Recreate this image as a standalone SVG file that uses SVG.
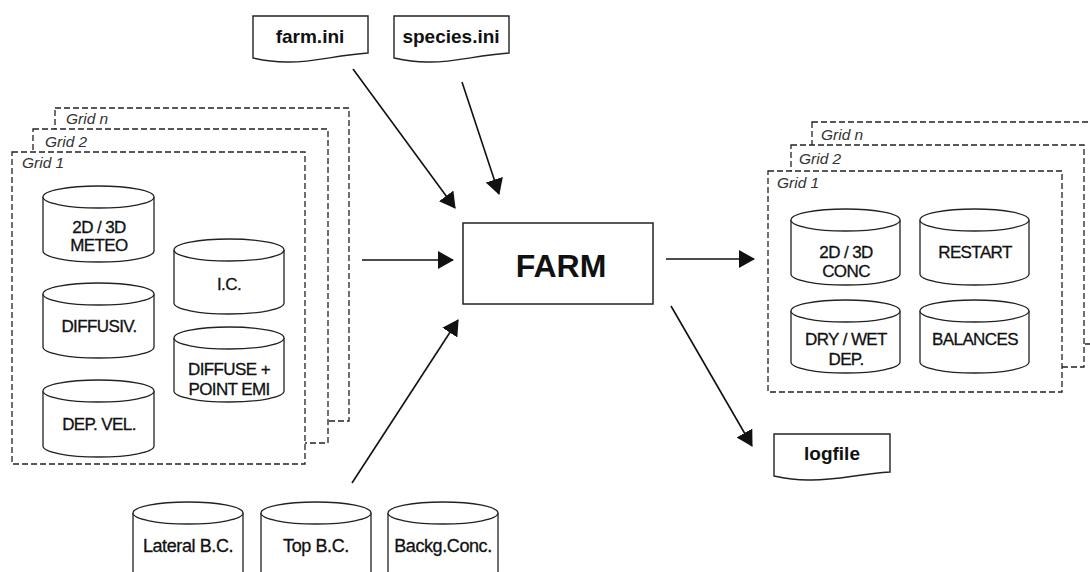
<svg xmlns="http://www.w3.org/2000/svg" width="1090" height="572" viewBox="0 0 1090 572">
<defs>
<marker id="ah" viewBox="0 0 16 18" refX="15" refY="9" markerWidth="16" markerHeight="18" markerUnits="userSpaceOnUse" orient="auto">
<path d="M0,0 L16,9 L0,18 Z" fill="#111"/>
</marker>
</defs>
<style>
.grid{fill:#fff;stroke:#222;stroke-width:1.3;stroke-dasharray:6 3}
.gl{font-family:"Liberation Sans",Arial,sans-serif;font-style:italic;font-size:15.5px;fill:#333}
.cyl{fill:#fff;stroke:#222;stroke-width:1.3}
.ct{font-family:"Liberation Sans",Arial,sans-serif;font-size:17px;letter-spacing:-0.6px;fill:#111;stroke:#111;stroke-width:0.3;text-anchor:middle}
.bt{font-family:"Liberation Sans",Arial,sans-serif;font-size:18px;letter-spacing:-0.4px;fill:#111;stroke:#111;stroke-width:0.3;text-anchor:middle}
.doc{fill:#fff;stroke:#222;stroke-width:1.4}
.dt{font-family:"Liberation Sans",Arial,sans-serif;font-weight:bold;font-size:19px;fill:#111;text-anchor:middle}
.con{fill:none;stroke:#111;stroke-width:1.6;marker-end:url(#ah)}
</style>
<rect width="1090" height="572" fill="#fff"/>

<g id="left-grids">
<rect class="grid" x="55" y="108" width="294" height="313"/>
<text class="gl" x="66" y="124">Grid n</text>
<rect class="grid" x="33" y="129" width="295" height="314"/>
<text class="gl" x="45" y="147">Grid 2</text>
<rect class="grid" x="12" y="152" width="293" height="312"/>
<text class="gl" x="22" y="168">Grid 1</text>
</g>

<g id="meteo">
<path class="cyl" d="M43,197 V251 A55.5,11 0 0 0 154,251 V197"/>
<ellipse class="cyl" cx="98.5" cy="197" rx="55.5" ry="11"/>
<text class="ct" x="99" y="233">2D / 3D</text>
<text class="ct" x="99" y="251">METEO</text>
</g>
<g id="diffusiv">
<path class="cyl" d="M43,294 V347 A55.5,11 0 0 0 154,347 V294"/>
<ellipse class="cyl" cx="98.5" cy="294" rx="55.5" ry="11"/>
<text class="ct" x="99" y="332">DIFFUSIV.</text>
</g>
<g id="depvel">
<path class="cyl" d="M43,391 V446 A55.5,11 0 0 0 154,446 V391"/>
<ellipse class="cyl" cx="98.5" cy="391" rx="55.5" ry="11"/>
<text class="ct" x="99" y="430">DEP. VEL.</text>
</g>
<g id="ic">
<path class="cyl" d="M174,250 V303 A55,11 0 0 0 284,303 V250"/>
<ellipse class="cyl" cx="229" cy="250" rx="55" ry="11"/>
<text class="ct" x="229" y="290">I.C.</text>
</g>
<g id="emi">
<path class="cyl" d="M174,338 V391 A55,11 0 0 0 284,391 V338"/>
<ellipse class="cyl" cx="229" cy="338" rx="55" ry="11"/>
<text class="ct" x="229" y="375">DIFFUSE +</text>
<text class="ct" x="229" y="395">POINT EMI</text>
</g>

<g id="farm-ini">
<path class="doc" d="M253,16 H368 V53 C336,55 312,63 286,62 C272,62 262,60 253,58 Z"/>
<text class="dt" x="310" y="43">farm.ini</text>
</g>
<g id="species-ini">
<path class="doc" d="M394,16 H509 V53 C477,55 453,63 427,62 C413,62 403,60 394,58 Z"/>
<text class="dt" x="451" y="43">species.ini</text>
</g>

<g id="farm">
<rect x="463" y="223" width="190" height="81" fill="#fff" stroke="#222" stroke-width="1.5"/>
<text x="561" y="277" font-family="'Liberation Sans',Arial,sans-serif" font-weight="bold" font-size="32" fill="#111" text-anchor="middle">FARM</text>
</g>

<g id="right-grids">
<rect class="grid" x="812" y="122" width="294" height="222"/>
<text class="gl" x="821" y="140">Grid n</text>
<rect class="grid" x="791" y="145" width="293" height="222"/>
<text class="gl" x="799" y="164">Grid 2</text>
<rect class="grid" x="768" y="171" width="294" height="221"/>
<text class="gl" x="777" y="188">Grid 1</text>
</g>

<g id="conc">
<path class="cyl" d="M791,220 V274 A54.5,11 0 0 0 900,274 V220"/>
<ellipse class="cyl" cx="845.5" cy="220" rx="54.5" ry="11"/>
<text class="ct" x="846" y="258">2D / 3D</text>
<text class="ct" x="846" y="277">CONC</text>
</g>
<g id="restart">
<path class="cyl" d="M920,220 V274 A54.5,11 0 0 0 1029,274 V220"/>
<ellipse class="cyl" cx="974.5" cy="220" rx="54.5" ry="11"/>
<text class="ct" x="975" y="258">RESTART</text>
</g>
<g id="drywet">
<path class="cyl" d="M791,311 V362 A54.5,11 0 0 0 900,362 V311"/>
<ellipse class="cyl" cx="845.5" cy="311" rx="54.5" ry="11"/>
<text class="ct" x="846" y="345">DRY / WET</text>
<text class="ct" x="846" y="365">DEP.</text>
</g>
<g id="balances">
<path class="cyl" d="M920,311 V362 A54.5,11 0 0 0 1029,362 V311"/>
<ellipse class="cyl" cx="974.5" cy="311" rx="54.5" ry="11"/>
<text class="ct" x="975" y="345">BALANCES</text>
</g>

<g id="logfile">
<path class="doc" d="M774,434 H890 V472 C858,474 834,481 808,480 C793,480 783,478 774,476 Z"/>
<text class="dt" x="832" y="460">logfile</text>
</g>

<g id="lateral">
<path class="cyl" d="M133,513 V580 A55,11 0 0 0 243,580 V513"/>
<ellipse class="cyl" cx="188" cy="513" rx="55" ry="11"/>
<text class="bt" x="188" y="552">Lateral B.C.</text>
</g>
<g id="top">
<path class="cyl" d="M261,513 V580 A55,11 0 0 0 371,580 V513"/>
<ellipse class="cyl" cx="316" cy="513" rx="55" ry="11"/>
<text class="bt" x="316" y="552">Top B.C.</text>
</g>
<g id="backg">
<path class="cyl" d="M388,513 V580 A55,11 0 0 0 498,580 V513"/>
<ellipse class="cyl" cx="443" cy="513" rx="55" ry="11"/>
<text class="bt" x="443" y="552">Backg.Conc.</text>
</g>

<g id="connectors">
<line class="con" x1="362" y1="260" x2="453" y2="260"/>
<line class="con" x1="666" y1="259" x2="754" y2="259"/>
<line class="con" x1="353" y1="69" x2="455" y2="208"/>
<line class="con" x1="462" y1="82" x2="499" y2="194"/>
<line class="con" x1="352" y1="483" x2="458" y2="320"/>
<line class="con" x1="671" y1="306" x2="752" y2="446"/>
</g>
</svg>
